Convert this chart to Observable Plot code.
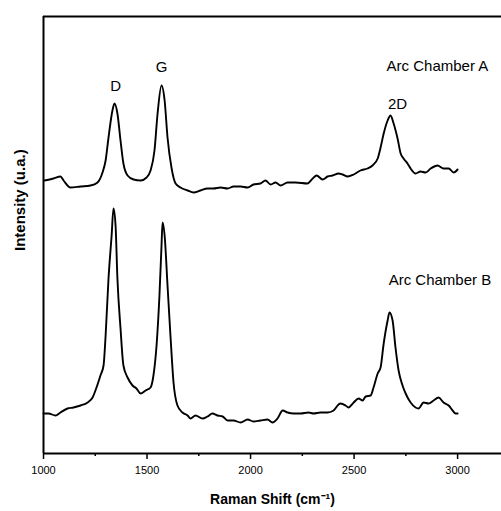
<!DOCTYPE html>
<html>
<head>
<meta charset="utf-8">
<script src="https://cdn.jsdelivr.net/npm/d3@7"></script>
<script src="https://cdn.jsdelivr.net/npm/@observablehq/plot@0.6"></script>
<style>
  html, body { margin: 0; padding: 0; background: #fff; overflow: hidden; }
</style>
</head>
<body>
<div id="chart"></div>
<script>
// Raman spectra (arbitrary intensity units)
const shiftA = [1005,1048,1082,1097,1130,1179,1227,1261,1285,1300,1314,1333,1343,1357,1372,1386,1406,1435,1469,1498,1517,1536,1551,1570,1585,1599,1618,1638,1662,1696,1725,1758,1792,1821,1855,1889,1918,1952,1986,2014,2048,2072,2097,2121,2145,2179,2217,2275,2300,2319,2348,2372,2396,2425,2444,2469,2498,2531,2565,2589,2614,2628,2643,2662,2676,2691,2710,2725,2739,2758,2773,2797,2821,2845,2870,2903,2932,2957,2981,3000];
const intensityA = [273,275,277,273,266,267,268,271,281,293,316,343,350,340,313,290,278,274,273,276,283,303,340,368,353,316,286,270,266,263,261,263,265,265,266,265,267,267,266,269,270,273,269,271,268,271,271,270,275,278,274,277,278,280,279,277,279,283,285,288,295,306,320,333,338,330,315,300,295,290,285,280,282,281,285,288,285,285,281,284];

const shiftB = [1000,1024,1058,1082,1116,1145,1179,1213,1237,1256,1275,1290,1300,1314,1329,1338,1348,1357,1372,1386,1406,1430,1449,1469,1493,1517,1531,1546,1560,1570,1575,1585,1599,1614,1628,1647,1671,1696,1710,1734,1768,1792,1816,1841,1865,1889,1918,1952,1986,2014,2048,2082,2106,2130,2155,2179,2208,2242,2280,2304,2338,2372,2401,2425,2435,2459,2473,2498,2522,2541,2556,2580,2594,2614,2628,2643,2662,2671,2686,2700,2715,2734,2749,2773,2797,2811,2836,2860,2884,2908,2932,2957,2976,2990,3000];
const intensityB = [40,40,38,41,45,46,48,51,56,66,78,88,118,175,218,245,228,175,125,88,76,68,65,60,63,66,78,108,158,208,231,218,168,115,71,48,41,38,35,38,35,37,40,38,37,33,33,31,34,32,33,34,31,35,43,41,40,40,41,40,41,41,43,49,50,48,46,51,55,53,57,58,66,80,86,110,133,141,133,106,83,68,60,51,46,45,51,50,53,56,51,48,43,40,40];

const majorTicks = [1000, 1500, 2000, 2500, 3000];
const minorTicks = [1250, 1750, 2250, 2750];

const peakLabels = ["D", "G", "2D"];
const peakLabelShift = [1348, 1570, 2710];
const peakLabelIntensity = [367, 386, 349];

const seriesLabels = ["Arc Chamber A", "Arc Chamber B"];
const seriesLabelShift = [2657, 2667];
const seriesLabelIntensity = [387, 173];

const xTitle = "Raman Shift (cm\u207B\u00B9)";
const yTitle = "Intensity (u.a.)";

const specA = shiftA.map((w, i) => ({w, v: intensityA[i]}));
const specB = shiftB.map((w, i) => ({w, v: intensityB[i]}));
const peaks = peakLabels.map((t, i) => ({t, w: peakLabelShift[i], v: peakLabelIntensity[i]}));
const series = seriesLabels.map((t, i) => ({t, w: seriesLabelShift[i], v: seriesLabelIntensity[i]}));

const font = "'Liberation Sans', Arial, Helvetica, sans-serif";

const chart = Plot.plot({
  width: 501,
  height: 511,
  marginLeft: 43,
  marginRight: 0,
  marginTop: 16,
  marginBottom: 58,
  x: {domain: [1000, 3212]},
  y: {domain: [0, 437], axis: null},
  style: {fontFamily: font, fontSize: "11px", color: "#000", background: "#fff"},
  marks: [
    Plot.axisX({ticks: majorTicks, tickSize: 6, tickPadding: 7, tickFormat: d => String(d), label: null, strokeWidth: 1.5, fontSize: 11}),
    Plot.axisX({ticks: minorTicks, tickSize: 3, tickFormat: () => "", label: null, strokeWidth: 1.5}),
    Plot.ruleY([437], {stroke: "#000", strokeWidth: 2}),
    Plot.ruleY([0], {stroke: "#000", strokeWidth: 2}),
    Plot.ruleX([1000], {stroke: "#000", strokeWidth: 2}),
    Plot.line(specA, {x: "w", y: "v", stroke: "#000", strokeWidth: 1.9, curve: "monotone-x"}),
    Plot.line(specB, {x: "w", y: "v", stroke: "#000", strokeWidth: 1.9, curve: "monotone-x"}),
    Plot.text(peaks, {x: "w", y: "v", text: "t", fontSize: 15, fill: "#000", textAnchor: "middle"}),
    Plot.text(series, {x: "w", y: "v", text: "t", fontSize: 15, fill: "#000", textAnchor: "start"}),
    Plot.text([xTitle], {frameAnchor: "bottom", dx: 0, dy: 50, text: d => d, fontSize: 14, fontWeight: "bold", fill: "#000"}),
    Plot.text([yTitle], {frameAnchor: "left", dx: -23, dy: 16, rotate: -90, text: d => d, fontSize: 15, fontWeight: "bold", fill: "#000"})
  ]
});
document.getElementById("chart").appendChild(chart);
</script>
</body>
</html>
